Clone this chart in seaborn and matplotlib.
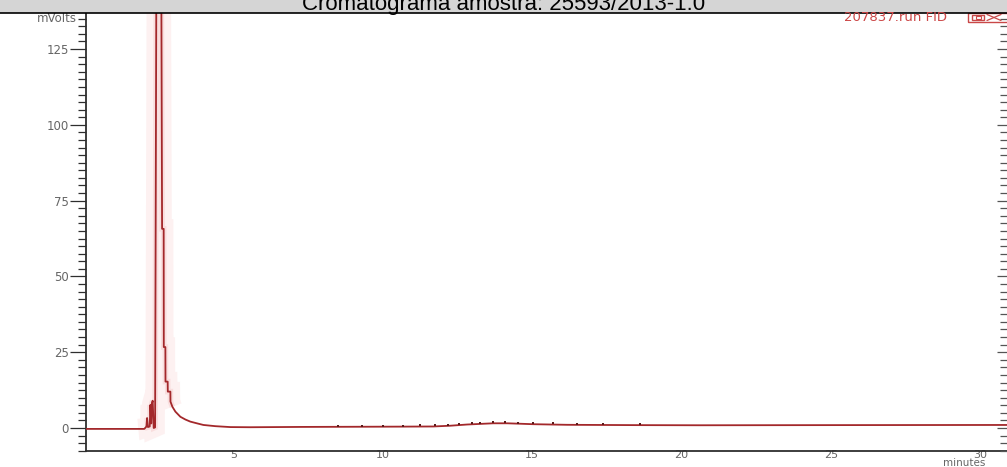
import numpy as np
import matplotlib
matplotlib.use("Agg")
import matplotlib.pyplot as plt
from matplotlib.patches import Rectangle
from matplotlib.lines import Line2D
from matplotlib.ticker import MultipleLocator, FixedLocator
import seaborn as sns

# FID trace: retention time (min) and detector signal (mV)
time_min = [0.05, 2.02, 2.09, 2.112, 2.14, 2.20, 2.222, 2.25, 2.27, 2.299, 2.333, 2.38,
            2.50, 2.614, 2.667, 2.671, 2.724, 2.728, 2.801, 2.805, 2.892, 2.895,
            2.959, 3.059, 3.226, 3.393, 3.560, 3.795, 3.996, 4.398, 4.900, 5.57, 7.24,
            10.59, 11.69, 12.26, 12.83, 13.27, 13.70, 14.17, 14.61, 15.04, 16.18, 18.39,
            20.63, 24.98, 30.90]
signal_mv = [-0.3, -0.3, 0.5, 3.3, 0.3, 0.5, 7.6, 1.5, 8.0, 9.0, 0.0, 0.2,
             420.0, 65.7, 65.7, 26.7, 26.7, 15.3, 15.3, 12.0, 12.0, 8.7,
             7.0, 5.4, 3.7, 2.8, 2.1, 1.5, 1.0, 0.6, 0.3, 0.25, 0.35,
             0.45, 0.5, 0.75, 1.15, 1.35, 1.55, 1.55, 1.4, 1.25, 1.05, 0.95,
             0.9, 0.95, 1.0]

# integration marks placed on the small peaks of the hump
mark_times = [8.51, 9.32, 10.02, 10.69, 11.26, 11.76, 12.20, 12.56, 13.00, 13.27,
              13.70, 14.10, 14.54, 15.04, 15.71, 16.51, 17.38, 18.62]

x_ticks = [5, 10, 15, 20, 25, 30]
x_labels = ["5", "10", "15", "20", "25", "30"]
y_ticks = [0, 25, 50, 75, 100, 125]
y_labels = ["0", "25", "50", "75", "100", "125"]

title = "Cromatograma amostra: 25593/2013-1.0"
run_name = "207837.run FID"

TRACE = "#a3282b"
AXIS = "#2e2e2e"
LABEL = "#656565"
FS = 8.5

sns.set_style("white")
plt.rcParams["font.family"] = ["DejaVu Sans"]

W, H = 1007, 467
fig = plt.figure(figsize=(W / 100, H / 100), dpi=100, facecolor="white")

ax_left, ax_right, ax_top, ax_bottom = 85.5, 1007, 13, 451
ax = fig.add_axes([ax_left / W, 1 - ax_bottom / H,
                   (ax_right - ax_left) / W, (ax_bottom - ax_top) / H])
ax.set_facecolor("white")

# faint halo around the main peak
t_arr = np.array(time_min)
s_arr = np.array(signal_mv)
halo = (t_arr > 2.1) & (t_arr < 3.0)
for lw, col, z in [(14, "#fdf1f1", 1), (4, "#f9dede", 2)]:
    sns.lineplot(x=t_arr[halo], y=s_arr[halo], sort=False, estimator=None,
                 color=col, linewidth=lw, solid_capstyle="butt",
                 solid_joinstyle="miter", ax=ax, zorder=z)

sns.lineplot(x=time_min, y=signal_mv, sort=False, estimator=None,
             color=TRACE, linewidth=1.3, ax=ax, zorder=3)

mark_y = np.interp(mark_times, time_min, signal_mv) + 0.35
sns.scatterplot(x=mark_times, y=mark_y, marker="s", s=3, color="#5a1a1a",
                linewidth=0, ax=ax, zorder=4)

ax.set_xlim(0.05, 30.9)
ax.set_ylim(-7.59, 136.9)
ax.set_xlabel("")
ax.set_ylabel("")

ax.xaxis.set_major_locator(FixedLocator(x_ticks))
ax.set_xticklabels(x_labels)
ax.xaxis.set_minor_locator(MultipleLocator(0.5))
ax.yaxis.set_major_locator(FixedLocator(y_ticks))
ax.set_yticklabels(y_labels)
ax.yaxis.set_minor_locator(MultipleLocator(2.5))

ax.tick_params(axis="y", which="major", direction="out", length=11.5, width=0.9,
               color=AXIS, pad=0.6, labelsize=FS, labelcolor=LABEL)
ax.tick_params(axis="y", which="minor", direction="out", length=5.6, width=0.9,
               color=AXIS)
ax.tick_params(axis="x", which="major", direction="inout", length=3.5, width=0.9,
               color=AXIS, pad=-2.2, labelsize=8, labelcolor=LABEL)
ax.tick_params(axis="x", which="minor", direction="inout", length=2.5, width=0.9,
               color=AXIS)

for side in ("top", "right"):
    ax.spines[side].set_visible(False)
for side in ("left", "bottom"):
    ax.spines[side].set_color(AXIS)
    ax.spines[side].set_linewidth(1.3)

# inward ticks along the right edge
ax_r = ax.twinx()
ax_r.set_ylim(ax.get_ylim())
ax_r.yaxis.set_major_locator(FixedLocator(y_ticks))
ax_r.yaxis.set_minor_locator(MultipleLocator(2.5))
ax_r.tick_params(axis="y", which="major", direction="in", length=7.2, width=0.9,
                 color="#555555", labelright=False)
ax_r.tick_params(axis="y", which="minor", direction="in", length=5, width=0.9,
                 color="#555555")
for side in ax_r.spines:
    ax_r.spines[side].set_visible(False)

# axis unit captions
ax.annotate("mVolts", xy=(0, 135), xycoords=("axes fraction", "data"),
            xytext=(-6, 0), textcoords="offset points", ha="right", va="center",
            fontsize=FS, color=LABEL)
fig.text(964 / W, 1 - 465.5 / H, "minutes", ha="center", va="baseline",
         fontsize=7.5, color=LABEL)

# window title bar
fig.patches.append(Rectangle((0, 1 - 12.5 / H), 1, 12.5 / H, transform=fig.transFigure,
                             facecolor="#d5d5d5", edgecolor="none", zorder=0))
fig.lines.append(Line2D([0, 1], [1 - 12.8 / H] * 2, transform=fig.transFigure,
                        color="black", linewidth=1.2))
fig.text(0.5, 1 - 10.3 / H, title, ha="center", va="baseline", fontsize=16,
         family="Liberation Sans", color="black")

# run name and window buttons
fig.text(947 / W, 1 - 17.5 / H, run_name, ha="right", va="center", fontsize=9.5,
         color="#cc4747")
RED = "#c94848"
def px_rect(x0, y0, x1, y1, **kw):
    return Rectangle((x0 / W, 1 - y1 / H), (x1 - x0) / W, (y1 - y0) / H,
                     transform=fig.transFigure, fill=False, edgecolor=RED, **kw)
fig.patches.append(px_rect(968, 13.5, 1012, 21.5, linewidth=1.0))
fig.patches.append(px_rect(972, 15, 984, 20, linewidth=1.0))
fig.patches.append(px_rect(975.5, 16.3, 980.5, 18.7, linewidth=0.8))
for (xa, ya, xb, yb) in [(987, 14.5, 1001, 20.5), (987, 20.5, 1001, 14.5)]:
    fig.lines.append(Line2D([xa / W, xb / W], [1 - ya / H, 1 - yb / H],
                            transform=fig.transFigure, color=RED, linewidth=0.9))

fig.savefig("out.png", dpi=100, facecolor="white")
